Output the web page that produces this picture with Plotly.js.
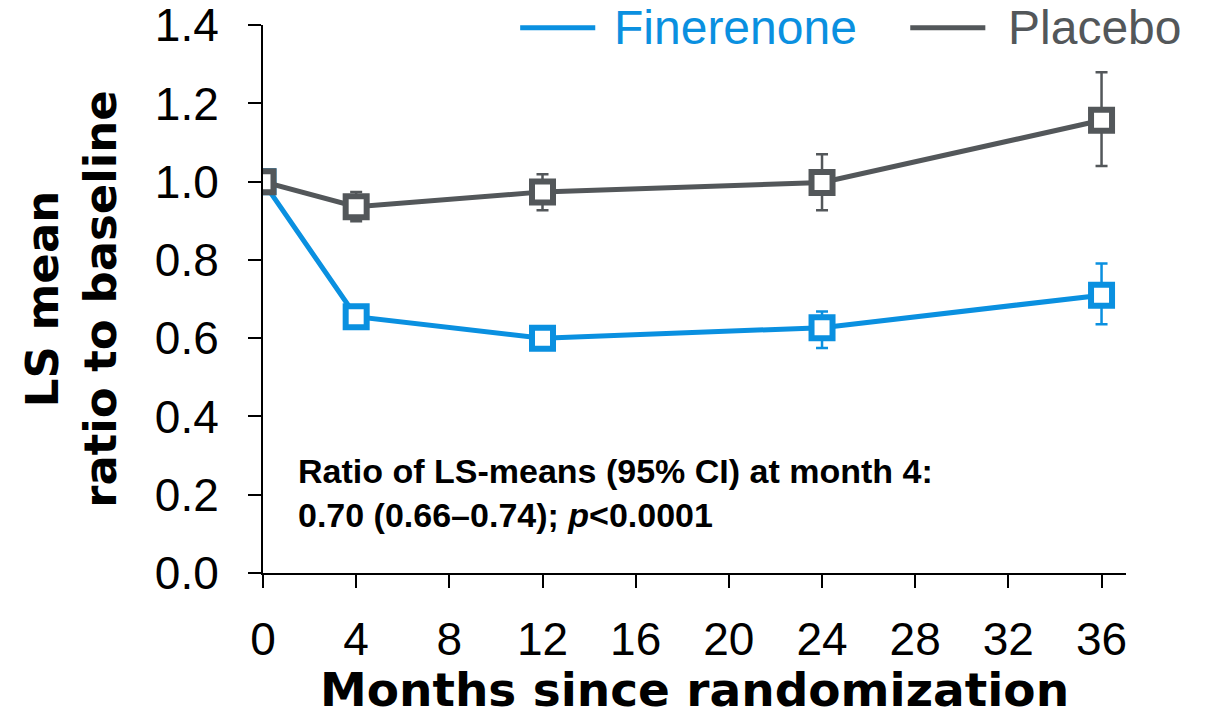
<!DOCTYPE html>
<html>
<head>
<meta charset="utf-8">
<script src="https://cdn.plot.ly/plotly-3.0.1.min.js"></script>
<style>html,body{margin:0;padding:0;background:#fff;}#chart{width:1206px;height:717px;}</style>
</head>
<body>
<div id="chart"></div>
<script>
const months = [0, 4, 12, 24, 36];
const fineMean = [1.0, 0.655, 0.600, 0.627, 0.710];
const fineUpper = [1.0, 0.675, 0.620, 0.668, 0.791];
const fineLower = [1.0, 0.635, 0.580, 0.575, 0.636];
const placMean = [1.0, 0.936, 0.974, 0.998, 1.157];
const placUpper = [1.0, 0.974, 1.019, 1.070, 1.280];
const placLower = [1.0, 0.899, 0.927, 0.927, 1.040];
const seriesNames = ["Finerenone", "Placebo"];
const yTicks = [0, 0.2, 0.4, 0.6, 0.8, 1.0, 1.2, 1.4];
const xTicks = [0, 4, 8, 12, 16, 20, 24, 28, 32, 36];

const BLUE = "#0a90e0";
const GRAY = "#53575a";
const FONT = "Arial, 'Liberation Sans', sans-serif";
const TFONT = "'DejaVu Sans', Arial, sans-serif";

function errs(mean, up, lo) {
  return {
    type: "data", symmetric: false,
    array: mean.map((m, i) => up[i] - m),
    arrayminus: mean.map((m, i) => m - lo[i])
  };
}

const traces = [
  {
    x: months, y: fineMean, mode: "lines+markers", type: "scatter", name: seriesNames[0],
    showlegend: false,
    line: {color: BLUE, width: 5},
    marker: {symbol: "square", size: 21, color: "#ffffff", line: {color: BLUE, width: 6}},
    error_y: Object.assign(errs(fineMean, fineUpper, fineLower), {color: BLUE, thickness: 2.5, width: 6})
  },
  {
    x: months, y: placMean, mode: "lines+markers", type: "scatter", name: seriesNames[1],
    showlegend: false,
    line: {color: GRAY, width: 5},
    marker: {symbol: "square", size: 21, color: "#ffffff", line: {color: GRAY, width: 6}},
    error_y: Object.assign(errs(placMean, placUpper, placLower), {color: GRAY, thickness: 2.5, width: 6})
  }
];

// legend drawn as line keys + labels (paper coordinates)
const legendItems = [
  {name: seriesNames[0], color: BLUE, x0: 0.298, x1: 0.385, tx: 0.404},
  {name: seriesNames[1], color: GRAY, x0: 0.750, x1: 0.837, tx: 0.861}
];
const legendY = 0.995;

const layout = {
  width: 1206, height: 717,
  margin: {l: 263, r: 80, t: 25, b: 144, autoexpand: false},
  paper_bgcolor: "#ffffff", plot_bgcolor: "#ffffff",
  font: {family: FONT, color: "#000000", size: 44},
  showlegend: false,
  xaxis: {
    range: [0, 37.05], tickvals: xTicks, ticktext: xTicks.map(String),
    showgrid: false, zeroline: false, showline: true, linecolor: "#000", linewidth: 2,
    ticks: "outside", ticklen: 13, tickwidth: 2, tickcolor: "#000",
    tickfont: {size: 46, color: "#000"}, ticklabelstandoff: 12,
    title: {text: "<b>Months since randomization</b>", font: {family: TFONT, size: 47, color: "#000"}, standoff: 29}
  },
  yaxis: {
    range: [0, 1.4005], tickvals: yTicks, ticktext: yTicks.map(v => v.toFixed(1)),
    showgrid: false, zeroline: false, showline: true, linecolor: "#000", linewidth: 2,
    ticks: "outside", ticklen: 13, tickwidth: 2, tickcolor: "#000",
    tickfont: {size: 46, color: "#000"}, ticklabelstandoff: 20, ticklabeloverflow: "allow",
    title: {text: "<b>LS mean<br>ratio to baseline</b>", font: {family: TFONT, size: 45, color: "#000"}, standoff: 24}
  },
  shapes: legendItems.map(it => ({
    type: "line", xref: "paper", yref: "paper", x0: it.x0, x1: it.x1, y0: legendY, y1: legendY,
    line: {color: it.color, width: 5}
  })),
  annotations: legendItems.map(it => ({
    xref: "paper", yref: "paper", x: it.tx, y: legendY, xanchor: "left", yanchor: "middle",
    showarrow: false, text: it.name, font: {family: FONT, size: 48, color: it.color}
  })).concat([{
    xref: "paper", yref: "paper", x: 0.038, y: 0.225, xanchor: "left", yanchor: "top",
    align: "left", showarrow: false,
    text: "<b>Ratio of LS-means (95% CI) at month 4:<br>0.70 (0.66–0.74); <i>p</i>&lt;0.0001</b>",
    font: {family: FONT, size: 34, color: "#000"}
  }])
};

Plotly.newPlot("chart", traces, layout, {displayModeBar: false, staticPlot: true});
</script>
</body>
</html>
